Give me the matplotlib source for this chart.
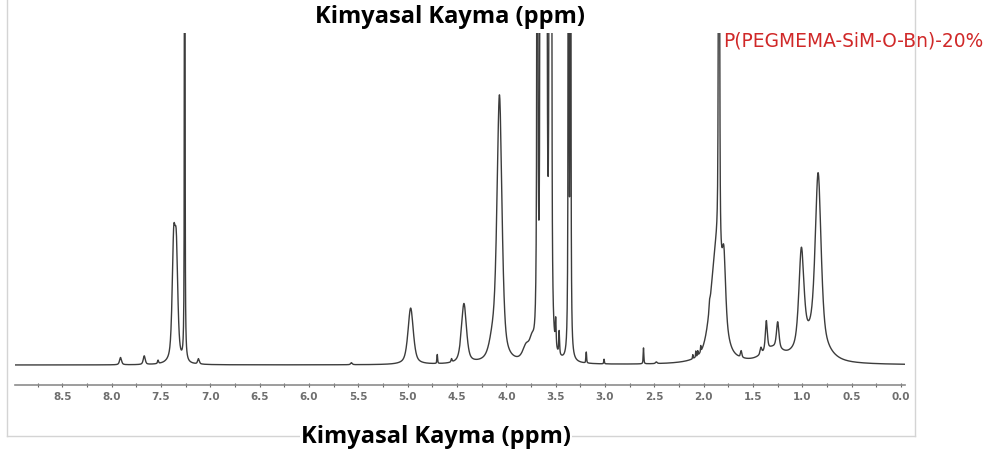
import numpy as np
import matplotlib.pyplot as plt
from matplotlib.lines import Line2D
from matplotlib.ticker import MultipleLocator, FormatStrFormatter

# Peak list (ppm, relative height, half width in ppm)
# height 1.0 = top of the plot window, taller peaks are clipped like in the original
peak_ppm = [7.91, 7.67, 7.53, 7.372, 7.345, 7.26, 7.12,
            5.57, 4.97, 4.70, 4.555, 4.43, 4.14, 4.07, 3.80, 3.74,
            3.686, 3.655, 3.64, 3.625, 3.61, 3.595, 3.56, 3.545,
            3.50, 3.465, 3.37, 3.35, 3.19, 3.01, 2.61, 2.48,
            2.11, 2.08, 2.06, 2.03, 1.94, 1.87, 1.845, 1.795, 1.62, 1.42,
            1.365, 1.30, 1.25, 1.01, 0.90, 0.84]
peak_height = [0.022, 0.026, 0.010, 0.33, 0.31, 3.0, 0.016,
               0.006, 0.17, 0.027, 0.010, 0.18, 0.05, 0.80, 0.04, 0.045,
               8.5, 4.0, 4.0, 4.0, 4.0, 5.0, 5.0, 4.0,
               0.08, 0.07, 5.0, 5.0, 0.033, 0.014, 0.048, 0.005,
               0.012, 0.018, 0.014, 0.018, 0.02, 0.34, 2.0, 0.18, 0.02, 0.02,
               0.09, 0.04, 0.08, 0.29, 0.07, 0.51]
peak_width = [0.012, 0.012, 0.006, 0.018, 0.018, 0.003, 0.010,
              0.010, 0.032, 0.004, 0.006, 0.030, 0.040, 0.030, 0.040, 0.030,
              0.003, 0.004, 0.004, 0.004, 0.004, 0.005, 0.005, 0.004,
              0.005, 0.005, 0.003, 0.003, 0.004, 0.004, 0.004, 0.010,
              0.003, 0.003, 0.003, 0.003, 0.006, 0.07, 0.006, 0.02, 0.008, 0.01,
              0.012, 0.12, 0.015, 0.03, 0.15, 0.035]
lorentz_frac = 0.6

ppm_min, ppm_max = -0.04, 8.98
ppm = np.linspace(ppm_min, ppm_max, 30000)
signal = np.zeros_like(ppm)
for p, h, w in zip(peak_ppm, peak_height, peak_width):
    d = (ppm - p) / w
    signal += h * (lorentz_frac / (1 + d ** 2) + (1 - lorentz_frac) * np.exp(-np.log(2) * d ** 2))

W, H = 990, 456
fig = plt.figure(figsize=(W / 100, H / 100), dpi=100)
ax = fig.add_axes([15 / W, 1 - 386 / H, 890 / W, 352 / H])
ax.plot(ppm, signal, color='#3c3c3c', lw=1.0)
ax.set_xlim(ppm_max, ppm_min)
ax.set_ylim(-20 / 332, 1.0)

for s in ['top', 'left', 'right']:
    ax.spines[s].set_visible(False)
ax.spines['bottom'].set_color('#8c8c8c')
ax.spines['bottom'].set_linewidth(1.2)
ax.set_yticks([])
ax.xaxis.set_major_locator(MultipleLocator(0.5))
ax.xaxis.set_minor_locator(MultipleLocator(0.25))
ax.xaxis.set_major_formatter(FormatStrFormatter('%.1f'))
ax.tick_params(axis='x', which='both', direction='inout', color='#666666',
               length=3, width=0.8, labelsize=7.5, labelcolor='#6e6e6e', pad=3)
for lbl in ax.get_xticklabels():
    lbl.set_fontweight('bold')

# light frame around the chart
frame = dict(color='#d4d4d4', lw=1.0, transform=fig.transFigure)
fig.add_artist(Line2D([7 / W, 7 / W], [1, 1 - 437 / H], **frame))
fig.add_artist(Line2D([7 / W, 915 / W], [1 - 437 / H, 1 - 437 / H], **frame))
fig.add_artist(Line2D([915 / W, 915 / W], [1, 1 - 437 / H], **frame))

fig.text(450 / W, 1 - 17 / H, 'Kimyasal Kayma (ppm)', ha='center', va='center',
         fontsize=17, fontweight='bold', family='Open Sans')
fig.text(436 / W, 1 - 437 / H, 'Kimyasal Kayma (ppm)', ha='center', va='center',
         fontsize=17, fontweight='bold', family='Open Sans',
         bbox=dict(facecolor='white', edgecolor='none', pad=1))
fig.text(723 / W, 1 - 41 / H, 'P(PEGMEMA-SiM-O-Bn)-20%', ha='left', va='center',
         fontsize=13.4, color='#d02828', family='DejaVu Sans')

fig.savefig('out.png', dpi=100)
